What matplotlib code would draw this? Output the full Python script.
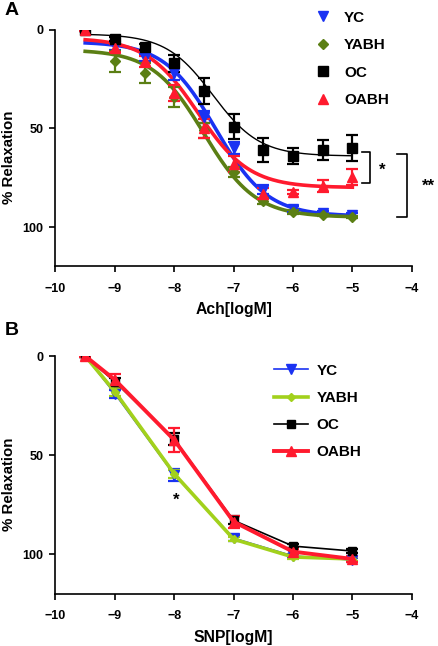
import numpy as np
import matplotlib
matplotlib.use("Agg")
import matplotlib.pyplot as plt
from matplotlib.lines import Line2D

plt.rcParams['font.family'] = ['Liberation Sans', 'DejaVu Sans']
plt.rcParams['font.weight'] = 'bold'

# ---------------- Panel A data (Ach) ----------------
ach_x = [-9.5, -9, -8.5, -8, -7.5, -7, -6.5, -6, -5.5, -5]
groups = ['YC', 'YABH', 'OC', 'OABH']
ach_yc = [0, 8, 14, 22, 44, 60, 81, 91, 93, 94]
ach_yc_err = [0.5, 2, 2, 3.5, 3, 3, 2.5, 1.5, 1, 1]
ach_yabh = [0, 16, 22, 34, 51, 72, 87, 92.5, 94, 95]
ach_yabh_err = [0.5, 5.5, 5, 5, 4, 2.5, 1.5, 1, 0.5, 0.5]
ach_oc = [0, 4.7, 8.5, 17, 31, 49, 61, 64, 61, 60]
ach_oc_err = [0.5, 1, 1.5, 4.5, 6.5, 6.5, 6, 4, 5, 6.5]
ach_oabh = [0, 9, 16, 32, 50, 68, 83, 82, 79, 74.5]
ach_oabh_err = [0.5, 2, 3, 4, 5, 4, 3, 1, 3, 4]
# fitted sigmoid parameters: [low, high, logEC50, hill]
fit_yc = [6, 94.5, -7.3, 1.0]
fit_yabh = [10, 95, -7.5, 1.0]
fit_oc = [2, 64, -7.35, 1.1]
fit_oabh = [4, 80, -7.6, 1.0]

# ---------------- Panel B data (SNP) ----------------
snp_x = [-9.5, -9, -8, -7, -6, -5]
snp_yc = [0, 19, 60, 92, 101, 103]
snp_yc_err = [0.5, 2, 3, 1.5, 1, 1]
snp_yabh = [0, 18, 59.5, 92.5, 101.5, 102.5]
snp_yabh_err = [0.5, 2, 2, 1, 1, 1]
snp_oc = [0, 13, 42, 83, 96, 98.5]
snp_oc_err = [0.5, 2, 3, 2, 1, 1]
snp_oabh = [0, 12, 42.4, 83.7, 98.8, 102.5]
snp_oabh_err = [0.5, 3, 6, 3, 1.5, 1.5]

x_ticks = [-10, -9, -8, -7, -6, -5, -4]
y_ticks = [0, 50, 100]

BLUE = '#1a32f2'
OLIVE = '#5b7f14'
BLACK = '#000000'
RED = '#ff1a2e'
YGREEN = '#a2d11c'

fig = plt.figure(figsize=(4.38, 6.46), dpi=100)
axA = fig.add_axes([0.1267, 0.5876, 0.8133, 0.366])
axB = fig.add_axes([0.1267, 0.0811, 0.8133, 0.3678])


def style_axis(ax, xlabel):
    ax.set_xlim(-10, -4)
    ax.set_ylim(120, 0)
    ax.set_xticks(x_ticks)
    ax.set_yticks(y_ticks)
    for s in ['top', 'right']:
        ax.spines[s].set_visible(False)
    for s in ['left', 'bottom']:
        ax.spines[s].set_linewidth(1.2)
    ax.tick_params(axis='both', width=1.2, length=4.5, labelsize=9)
    ax.tick_params(axis='x', pad=7.5)
    ax.tick_params(axis='y', pad=4)
    for lab in ax.get_xticklabels() + ax.get_yticklabels():
        lab.set_fontweight('bold')
    ax.set_xlabel(xlabel, fontsize=11.3, fontweight='bold')
    ax.set_ylabel('% Relaxation', fontsize=10.8, fontweight='bold')
    ax.xaxis.set_label_coords(0.5, -0.152)
    ax.yaxis.set_label_coords(-0.11, 0.46)


def sigmoid(x, p):
    low, high, ec, h = p
    return low + (high - low) / (1 + 10 ** ((ec - x) * h))


# ---------------- Panel A ----------------
xs = np.linspace(ach_x[0], ach_x[-1], 300)
specA = [
    (ach_yc, ach_yc_err, fit_yc, BLUE, 'v', 7.5, 2.6),
    (ach_yabh, ach_yabh_err, fit_yabh, OLIVE, 'D', 5.5, 2.6),
    (ach_oc, ach_oc_err, fit_oc, BLACK, 's', 7, 1.0),
    (ach_oabh, ach_oabh_err, fit_oabh, RED, '^', 7.5, 2.6),
]
for y, e, p, c, m, ms, lw in specA:
    axA.plot(xs, sigmoid(xs, p), color=c, lw=lw, zorder=2)
    axA.errorbar(ach_x, y, yerr=e, fmt=m, color=c, ms=ms, elinewidth=1.6,
                 capsize=4, capthick=1.6, zorder=3)

style_axis(axA, 'Ach[logM]')

handlesA = [Line2D([], [], ls='none', marker=m, color=c, ms=ms)
            for (_, _, _, c, m, ms, _) in specA]
legA = axA.legend(handlesA, groups, loc='upper left', bbox_to_anchor=(0.69, 1.14),
                  frameon=False, handlelength=1.0, handletextpad=0.9,
                  labelspacing=0.88, prop={'size': 11, 'weight': 'bold'})

# significance brackets
axA.plot([-4.83, -4.71, -4.71, -4.83], [61.8, 61.8, 77.8, 77.8], color='black',
         lw=1.2, clip_on=False)
axA.text(-4.49, 71, '*', fontsize=12, fontweight='bold', ha='center', va='center')
axA.plot([-4.24, -4.08, -4.08, -4.24], [63, 63, 94.8, 94.8], color='black',
         lw=1.2, clip_on=False)
axA.text(-3.72, 79.5, '**', fontsize=12, fontweight='bold', ha='center', va='center',
         clip_on=False)

# ---------------- Panel B ----------------
specB = [
    (snp_yc, snp_yc_err, BLUE, 'v', 6.5, 1.2),
    (snp_yabh, snp_yabh_err, YGREEN, 'D', 4.5, 2.6),
    (snp_oc, snp_oc_err, BLACK, 's', 6, 1.2),
    (snp_oabh, snp_oabh_err, RED, '^', 7, 2.8),
]
for y, e, c, m, ms, lw in specB:
    axB.errorbar(snp_x, y, yerr=e, fmt='-' + m, color=c, ms=ms, lw=lw,
                 elinewidth=1.6, capsize=4, capthick=1.6)

style_axis(axB, 'SNP[logM]')
handlesB = [Line2D([], [], ls='-', lw=lw, marker=m, color=c, ms=ms)
            for (_, _, c, m, ms, lw) in specB]
axB.legend(handlesB, groups, loc='upper left', bbox_to_anchor=(0.575, 1.025),
           frameon=False, handlelength=2.2, handletextpad=0.6,
           labelspacing=0.86, prop={'size': 11, 'weight': 'bold'})
axB.text(-7.97, 73, '*', fontsize=12, fontweight='bold', ha='center', va='center')

# panel labels
fig.text(0.01, 0.997, 'A', fontsize=14, fontweight='bold', ha='left', va='top')
fig.text(0.01, 0.502, 'B', fontsize=14, fontweight='bold', ha='left', va='top')

fig.savefig('out.png', dpi=100)
